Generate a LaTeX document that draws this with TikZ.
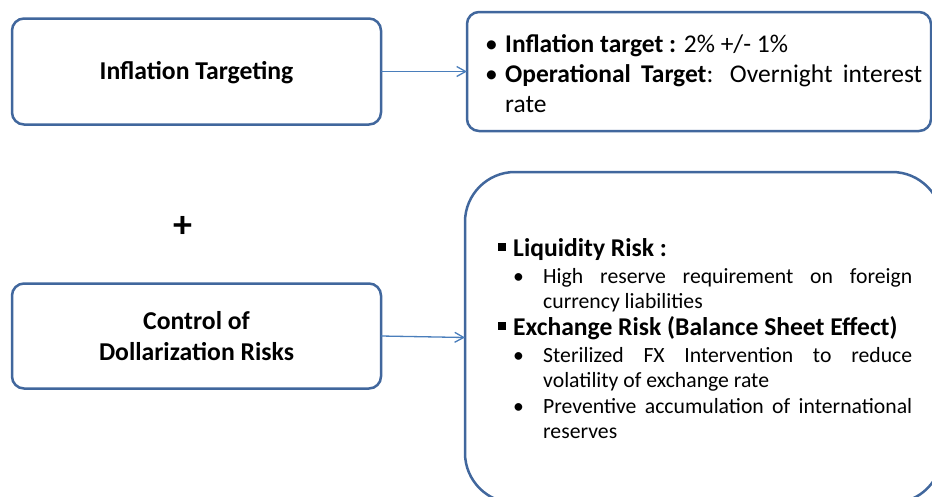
\documentclass[tikz,border=0pt]{standalone}
\usepackage{fontspec}
\setmainfont{Carlito}
\usepackage{enumitem}
\usetikzlibrary{arrows.meta,positioning}

\definecolor{frameblue}{HTML}{41679D}
\definecolor{linkblue}{HTML}{4A7EBB}

\hyphenpenalty=10000
\exhyphenpenalty=10000
\tolerance=10000

\newcommand{\sqbullet}{\rule[5.5pt]{7.5pt}{7.5pt}}
\newcommand{\dotbullet}{\makebox[0pt][l]{•}}

\begin{document}
\begin{tikzpicture}[x=1pt,y=-1pt,
        box/.style={draw=frameblue,line width=2.5pt,rounded corners=12pt,
            outer sep=0pt,inner sep=0pt,fill=white},
        title/.style={font=\bfseries\fontsize{25.7}{31}\selectfont,align=center},
        txt/.style={inner sep=0pt,anchor=west,align=justify,text width=#1},
        link/.style={draw=linkblue,line width=1.3pt,
            -{Straight Barb[length=9pt,width=10pt]}}]
    \clip (0,0) rectangle (932,496);
    \useasboundingbox (0,0) rectangle (932,496);

    \node[box,minimum width=369pt,minimum height=106pt] (infl) at (196.5,71.5) {};
    \node[title] (infltxt) at ([yshift=-1.5pt]infl.center) {Inflation Targeting};

    \node[box,minimum width=464pt,minimum height=119pt] (target) at (699,71.5) {};
    \node[txt=437pt] (targettxt) at ([xshift=18pt,yshift=4pt]target.west) {%
        \fontsize{25.5}{30}\selectfont
        \begin{itemize}[label=\dotbullet,align=left,labelindent=0pt,labelwidth=12pt,
            labelsep=8pt,leftmargin=20pt,topsep=0pt,itemsep=0pt,parsep=0pt,partopsep=0pt]
        \item \textbf{Inflation target :} 2\% +/- 1\%
        \item \textbf{Operational Target}: Overnight interest rate
        \end{itemize}};

    \node[font=\bfseries\fontsize{38}{38}\selectfont] (plus) at (183,227) {+};

    \node[box,minimum width=369pt,minimum height=105pt] (dollar) at (196.5,336) {};
    \node[title] (dollartxt) at (dollar.center) {Control of\\Dollarization Risks};

    \node[box,rounded corners=50pt,minimum width=477pt,minimum height=331pt] (risks) at (703.5,337.5) {};
    \node[txt=414pt] (riskstxt) at ([xshift=33pt,yshift=3pt]risks.west) {%
        \fontsize{25.6}{29}\selectfont
        \begin{itemize}[label=\sqbullet,align=left,labelindent=0pt,labelwidth=8pt,
            labelsep=7pt,leftmargin=15pt,topsep=0pt,itemsep=0pt,parsep=0pt,partopsep=0pt]
        \item \textbf{Liquidity Risk :}
            \fontsize{21.7}{25}\selectfont
            \begin{itemize}[label=\dotbullet,align=left,labelindent=0pt,labelwidth=8pt,
                labelsep=22pt,leftmargin=30pt,topsep=2pt,itemsep=1pt,parsep=0pt,partopsep=0pt]
            \item High reserve requirement on foreign currency liabilities
            \end{itemize}
        \fontsize{25.6}{29}\selectfont
        \item \textbf{Exchange Risk (Balance Sheet Effect)}
            \fontsize{21.7}{25}\selectfont
            \begin{itemize}[label=\dotbullet,align=left,labelindent=0pt,labelwidth=8pt,
                labelsep=22pt,leftmargin=30pt,topsep=2pt,itemsep=1pt,parsep=0pt,partopsep=0pt]
            \item Sterilized FX Intervention to reduce volatility of exchange rate
            \item Preventive accumulation of international reserves
            \end{itemize}
        \end{itemize}};

    \draw[link] (infl.east) -- (target.west);
    \draw[link] (dollar.east) -- (risks.west);
\end{tikzpicture}
\end{document}
